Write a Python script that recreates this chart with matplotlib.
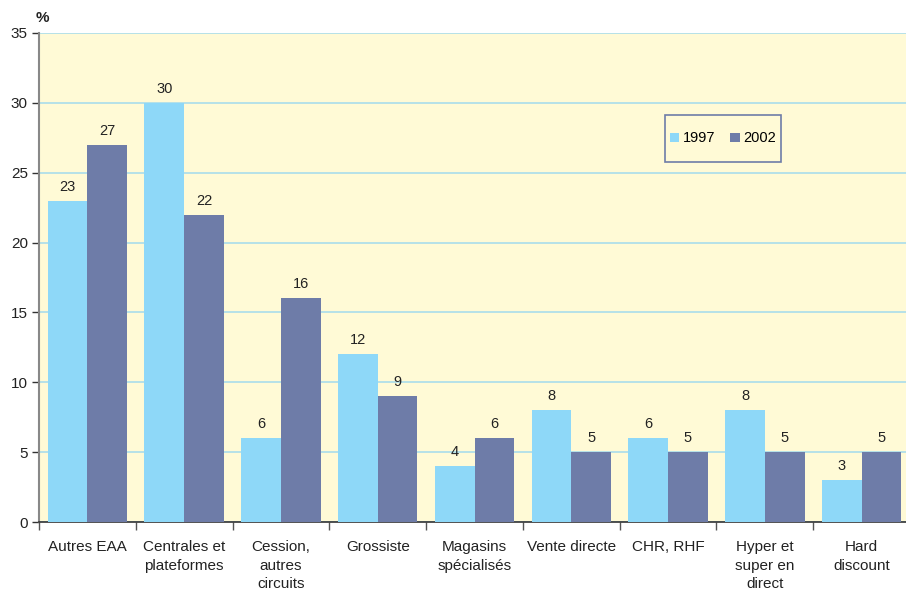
import matplotlib
matplotlib.use("Agg")
import matplotlib.pyplot as plt
import numpy as np
from matplotlib.patches import Patch, Rectangle

categories = ["Autres EAA", "Centrales et\nplateformes", "Cession,\nautres\ncircuits",
              "Grossiste", "Magasins\nspécialisés", "Vente directe", "CHR, RHF",
              "Hyper et\nsuper en\ndirect", "Hard\ndiscount"]
v1997 = [23, 30, 6, 12, 4, 8, 6, 8, 3]
v2002 = [27, 22, 16, 9, 6, 5, 5, 5, 5]
yticks = [0, 5, 10, 15, 20, 25, 30, 35]

plt.rcParams['font.family'] = ['Liberation Sans', 'DejaVu Sans']

c1 = "#8ED8F8"
c2 = "#6E7CA8"
bg = "#FFFAD6"
grid = "#A9DDEB"

fig = plt.figure(figsize=(9.06, 5.9), dpi=100)
AX_L, AX_T, AX_W, AX_H = 39, 33, 871, 489
ax = fig.add_axes([AX_L/906, (590 - AX_T - AX_H)/590, AX_W/906, AX_H/590])
ax.set_facecolor(bg)

x = np.arange(len(categories))
w = 0.41
b1 = ax.bar(x - w/2, v1997, width=w, color=c1, zorder=3)
b2 = ax.bar(x + w/2, v2002, width=w, color=c2, zorder=3)

for bars, vals in ((b1, v1997), (b2, v2002)):
    for r, v in zip(bars, vals):
        ax.text(r.get_x() + r.get_width()/2, v + 0.5, str(v), ha="center", va="bottom",
                fontsize=10.5, color="#222222", zorder=4)

ax.set_xlim(-0.5, len(categories) - 0.5)
ax.set_ylim(0, 35)
ax.set_yticks(yticks)
ax.tick_params(axis="y", labelsize=11, length=5, width=1, color="#333333", pad=3, labelcolor="#222222")
ax.yaxis.grid(True, color=grid, linewidth=1.2, zorder=1)
ax.set_axisbelow(True)

ax.set_xticks(np.arange(len(categories) + 1) - 0.5)
ax.set_xticklabels([])
ax.set_xticks(x, minor=True)
ax.set_xticklabels(categories, minor=True, fontsize=11, color="#222222", linespacing=1.42)
ax.tick_params(axis="x", which="major", length=6, width=1, color="#555555")
ax.tick_params(axis="x", which="minor", length=0, pad=13)

for s in ("top", "right"):
    ax.spines[s].set_visible(False)
ax.spines["left"].set_color("#888888")
ax.spines["left"].set_linewidth(1.5)
ax.spines["bottom"].set_color("#333333")
ax.spines["bottom"].set_linewidth(1.2)

fig.text(36/906, 1 - 18/590, "%", fontsize=11, fontweight="bold", ha="left", va="center", color="#222222")

# legend box (pixels 665-781 x, 115-162 y)
lx0 = (665 - AX_L) / AX_W
lx1 = (781 - AX_L) / AX_W
ly0 = 1 - (162 - AX_T) / AX_H
ly1 = 1 - (115 - AX_T) / AX_H
ax.add_patch(Rectangle((lx0, ly0), lx1 - lx0, ly1 - ly0, transform=ax.transAxes,
                       facecolor=bg, edgecolor="#6E7CA8", linewidth=1.2, zorder=5))
handles = [Patch(facecolor=c1, label="1997"), Patch(facecolor=c2, label="2002")]
leg = ax.legend(handles=handles, loc="center", bbox_to_anchor=((lx0 + lx1)/2, (ly0 + ly1)/2),
                ncol=2, frameon=False, fontsize=10.5, handlelength=0.65,
                handleheight=0.65, handletextpad=0.25, columnspacing=1.0, borderpad=0,
                borderaxespad=0)
leg.set_zorder(6)

fig.savefig("out.png", dpi=100)
